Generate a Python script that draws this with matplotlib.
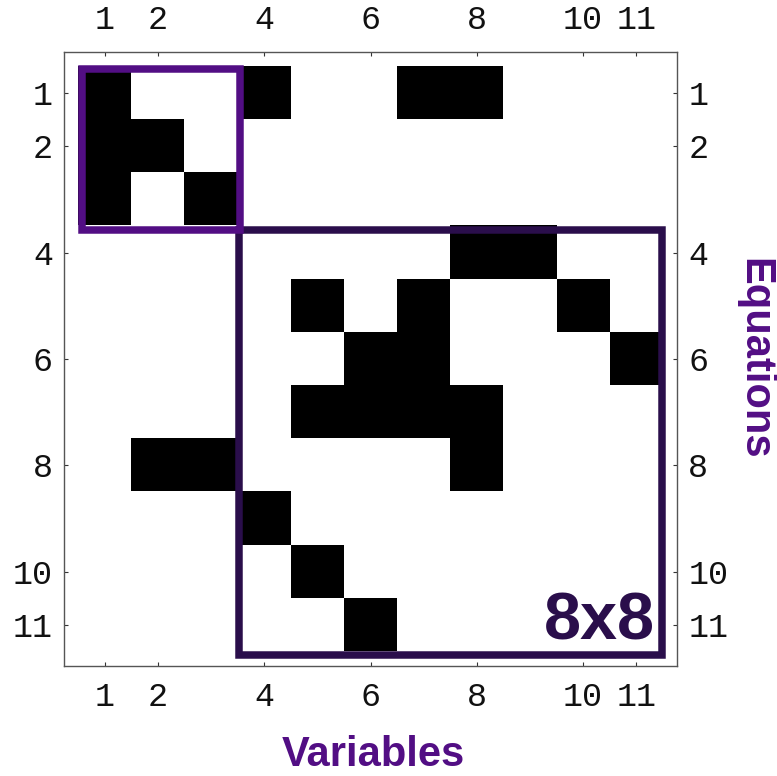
import numpy as np
import matplotlib.pyplot as plt
from matplotlib.patches import Rectangle

# Incidence structure: (equation, variable) pairs that are nonzero
rows = [1, 1, 1, 1, 2, 2, 3, 3, 4, 4, 5, 5, 5, 6, 6, 6, 7, 7, 7, 7, 8, 8, 8, 9, 10, 11]
cols = [1, 4, 7, 8, 1, 2, 1, 3, 8, 9, 5, 7, 10, 6, 7, 11, 5, 6, 7, 8, 2, 3, 8, 4, 5, 6]
n = 11
tick_vals = [1, 2, 4, 6, 8, 10, 11]

purple = '#520e84'
dark_purple = '#2a0e4b'

M = np.zeros((n, n))
for r, c in zip(rows, cols):
    M[r - 1, c - 1] = 1

fig = plt.figure(figsize=(7.77, 7.76), dpi=100)
ax = fig.add_axes([0.0824, 0.1421, 0.789, 0.7906])

ax.imshow(M, cmap='binary', vmin=0, vmax=1, extent=(0.5, n + 0.5, n + 0.5, 0.5),
          interpolation='nearest', aspect='auto')

ax.set_xlim(0.23, 11.77)
ax.set_ylim(11.77, 0.23)

# Block outlines
ax.add_patch(Rectangle((3.53, 3.57), 11.49 - 3.53, 11.56 - 3.57, fill=False,
                       edgecolor=dark_purple, linewidth=5.4, zorder=3))
ax.add_patch(Rectangle((0.56, 0.55), 3.55 - 0.56, 3.57 - 0.55, fill=False,
                       edgecolor=purple, linewidth=5.4, zorder=4))

ax.text(11.36, 11.28, '8x8', ha='right', va='baseline', fontsize=48,
        fontweight='bold', color=dark_purple, family='Liberation Sans', zorder=5)

# Ticks on all four sides
ax.set_xticks(tick_vals)
ax.set_yticks(tick_vals)
ax.set_xticklabels([str(t) for t in tick_vals])
ax.set_yticklabels([str(t) for t in tick_vals])
ax.tick_params(direction='in', length=3, width=0.8, color='#333333',
               top=True, right=True, labeltop=True, labelright=True,
               labelcolor='#111111')
ax.tick_params(axis='x', pad=12)
ax.tick_params(axis='y', pad=8)
for t in ax.xaxis.get_major_ticks() + ax.yaxis.get_major_ticks():
    for lab in (t.label1, t.label2):
        lab.set_fontfamily('Liberation Mono')
        lab.set_fontsize(24)

for s in ax.spines.values():
    s.set_color('#555555')
    s.set_linewidth(1.0)

fig.text(0.4807, 0.013, 'Variables', ha='center', va='baseline', fontsize=30,
         fontweight='bold', color=purple, family='Liberation Sans')
fig.text(0.997, 0.537, 'Equations', ha='right', va='center', rotation=270,
         fontsize=30, fontweight='bold', color=purple, family='Liberation Sans')

fig.savefig('out.png', dpi=100, facecolor='white')
